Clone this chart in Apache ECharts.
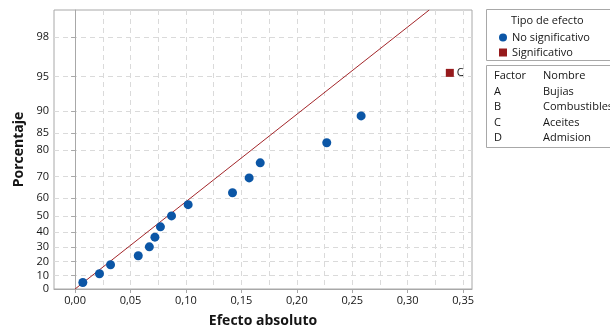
<!DOCTYPE html>
<html>
<head>
<meta charset="utf-8">
<script src="https://cdn.jsdelivr.net/npm/echarts@6/dist/echarts.min.js"></script>
<style>
  html, body { margin: 0; padding: 0; background: #fff; }
  #chart { width: 610px; height: 329px; }
</style>
</head>
<body>
<div id="chart"></div>
<script>
// Half-normal plot of absolute effects (2^4 factorial, 15 effects)
const effectX = [0.007, 0.022, 0.032, 0.057, 0.067, 0.072, 0.077, 0.087, 0.102, 0.142, 0.157, 0.167, 0.227, 0.258];
const effectPct = [4.8, 11.2, 17.7, 24.1, 30.3, 36.8, 43.4, 50.0, 56.4, 62.6, 69.5, 75.6, 82.3, 89.0];
const sigX = [0.338];
const sigPct = [95.4];
const sigLabels = ['C'];
const yTickPct = [0, 10, 20, 30, 40, 50, 60, 70, 80, 85, 90, 95, 98];
const xTicks = [0, 0.05, 0.10, 0.15, 0.20, 0.25, 0.30, 0.35];
const xGrid = [0, 0.025, 0.05, 0.075, 0.10, 0.125, 0.15, 0.175, 0.20, 0.225, 0.25, 0.275, 0.30, 0.325, 0.35];
const factorCodes = ['A', 'B', 'C', 'D'];
const factorNames = ['Bujias', 'Combustibles', 'Aceites', 'Admision'];
const PSE = 0.124;          // reference line: z = |effect| / PSE
const X_MIN = -0.019, X_MAX = 0.358;
const Y_MAX_PCT = 99;

// inverse standard normal CDF (Acklam)
function normInv(p) {
  const a = [-3.969683028665376e+01, 2.209460984245205e+02, -2.759285104469687e+02, 1.383577518672690e+02, -3.066479806614716e+01, 2.506628277459239e+00];
  const b = [-5.447609879822406e+01, 1.615858368580409e+02, -1.556989798598866e+02, 6.680131188771972e+01, -1.328068155288572e+01];
  const c = [-7.784894002430293e-03, -3.223964580411365e-01, -2.400758277161838e+00, -2.549671010243481e+00, 4.374664141464968e+00, 2.938163982698783e+00];
  const d = [7.784695709041462e-03, 3.224671290700398e-01, 2.445134137142996e+00, 3.754408661907416e+00];
  const pl = 0.02425, ph = 1 - pl;
  let q, r;
  if (p < pl) {
    q = Math.sqrt(-2 * Math.log(p));
    return (((((c[0]*q+c[1])*q+c[2])*q+c[3])*q+c[4])*q+c[5]) / ((((d[0]*q+d[1])*q+d[2])*q+d[3])*q+1);
  }
  if (p <= ph) {
    q = p - 0.5; r = q * q;
    return (((((a[0]*r+a[1])*r+a[2])*r+a[3])*r+a[4])*r+a[5])*q / (((((b[0]*r+b[1])*r+b[2])*r+b[3])*r+b[4])*r+1);
  }
  q = Math.sqrt(-2 * Math.log(1 - p));
  return -(((((c[0]*q+c[1])*q+c[2])*q+c[3])*q+c[4])*q+c[5]) / ((((d[0]*q+d[1])*q+d[2])*q+d[3])*q+1);
}
function halfZ(pct) { return pct <= 0 ? 0 : normInv(0.5 + pct / 200); }

const yTickZ = yTickPct.map(halfZ);
const yLabelMap = {};
yTickPct.forEach((p, i) => { yLabelMap[yTickZ[i].toFixed(6)] = String(p); });
const yMax = halfZ(Y_MAX_PCT);

const fmtX = v => v.toFixed(2).replace('.', ',');
const FONT = '"Open Sans", "Noto Sans", sans-serif';
const TXT = '#151515';
const gridDash = { color: '#dadada', type: [5, 4], width: 1 };

const lineEndX = Math.min(X_MAX, yMax * PSE);
const refLine = [[0, 0], [lineEndX, lineEndX / PSE]];

const chart = echarts.init(document.getElementById('chart'), null, { renderer: 'canvas' });
chart.setOption({
  animation: false,
  textStyle: { fontFamily: FONT },
  grid: {
    left: 54, right: 138, top: 10, bottom: 40, show: true,
    borderColor: '#a8a8a8', borderWidth: 1, outerBoundsMode: 'none', containLabel: false
  },
  legend: {
    orient: 'vertical', left: 494, top: 27, itemWidth: 8, itemHeight: 8, itemGap: 4,
    textStyle: { fontFamily: FONT, fontSize: 11, color: TXT },
    data: [{ name: 'No significativo', icon: 'circle' }, { name: 'Significativo', icon: 'rect' }]
  },
  xAxis: [{
    type: 'value', min: X_MIN, max: X_MAX,
    name: 'Efecto absoluto', nameLocation: 'middle', nameGap: 25,
    nameTextStyle: { fontFamily: FONT, fontSize: 14, fontWeight: 'bold', color: TXT },
    axisLine: { show: true, onZero: false, lineStyle: { color: '#a8a8a8' } },
    axisTick: { show: true, length: 4, customValues: xTicks, lineStyle: { color: '#a8a8a8' } },
    axisLabel: { customValues: xTicks, formatter: fmtX, fontSize: 11, color: TXT, margin: 6 },
    splitLine: { show: false }
  }, {
    type: 'value', min: X_MIN, max: X_MAX, position: 'top',
    axisLine: { show: false }, axisLabel: { show: false },
    axisTick: { show: false, customValues: xGrid },
    splitLine: { show: true, lineStyle: gridDash }
  }],
  yAxis: [{
    type: 'value', min: 0, max: yMax,
    name: 'Porcentaje', nameLocation: 'middle', nameGap: 25,
    nameTextStyle: { fontFamily: FONT, fontSize: 14, fontWeight: 'bold', color: TXT },
    axisLine: { show: true, lineStyle: { color: '#a8a8a8' } },
    axisTick: { show: true, length: 4, customValues: yTickZ, lineStyle: { color: '#a8a8a8' } },
    axisLabel: { customValues: yTickZ, formatter: v => yLabelMap[v.toFixed(6)] || '', fontSize: 11, color: TXT, margin: 5 },
    splitLine: { show: true, lineStyle: gridDash }
  }],
  series: [{
    name: 'Referencia', type: 'line', xAxisIndex: 0, data: refLine, symbol: 'none',
    lineStyle: { color: '#a3262a', width: 1 }, silent: true, z: 2
  }, {
    name: 'No significativo', type: 'scatter', xAxisIndex: 0,
    data: effectX.map((x, i) => [x, halfZ(effectPct[i])]),
    symbol: 'circle', symbolSize: 9, itemStyle: { color: '#0b56a6', opacity: 1 }, z: 3
  }, {
    name: 'Significativo', type: 'scatter', xAxisIndex: 0,
    data: sigX.map((x, i) => ({ value: [x, halfZ(sigPct[i])], label: { formatter: sigLabels[i] } })),
    symbol: 'rect', symbolSize: 8, itemStyle: { color: '#961a1c', opacity: 1 },
    label: { show: true, position: 'right', distance: 3, fontSize: 11, color: TXT, fontFamily: FONT }, z: 3
  }],
  graphic: [
    { type: 'rect', shape: { x: 486.5, y: 9.5, width: 130, height: 51 }, style: { fill: 'none', stroke: '#a8a8a8', lineWidth: 1 } },
    { type: 'text', x: 511, y: 21, style: { text: 'Tipo de efecto', font: '11px ' + FONT, fill: TXT, textVerticalAlign: 'middle' } },
    { type: 'rect', shape: { x: 486.5, y: 65.5, width: 130, height: 82 }, style: { fill: 'none', stroke: '#a8a8a8', lineWidth: 1 } },
    { type: 'text', x: 494, y: 76, style: { text: 'Factor', font: '11px ' + FONT, fill: TXT, textVerticalAlign: 'middle' } },
    { type: 'text', x: 543, y: 76, style: { text: 'Nombre', font: '11px ' + FONT, fill: TXT, textVerticalAlign: 'middle' } }
  ].concat(factorCodes.map((c, i) => ({
    type: 'text', x: 494, y: 92 + i * 15.3, style: { text: c, font: '11px ' + FONT, fill: TXT, textVerticalAlign: 'middle' }
  }))).concat(factorNames.map((n, i) => ({
    type: 'text', x: 543, y: 92 + i * 15.3, style: { text: n, font: '11px ' + FONT, fill: TXT, textVerticalAlign: 'middle' }
  })))
});
</script>
</body>
</html>
